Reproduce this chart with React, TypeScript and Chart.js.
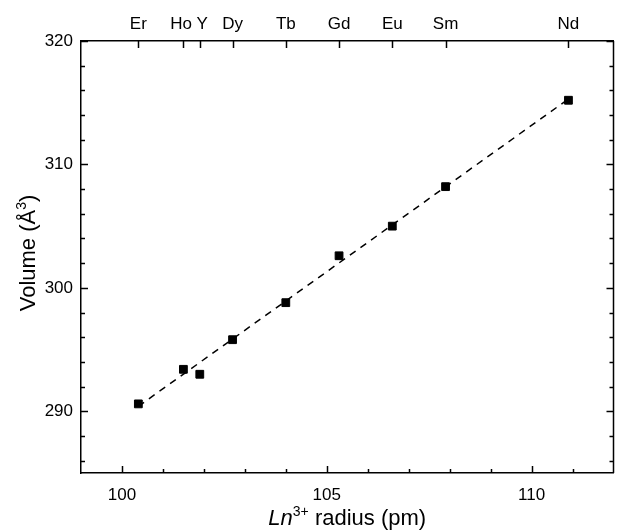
import React, { useEffect, useRef } from 'react';
import { Chart, registerables } from 'chart.js';

Chart.register(...registerables);

// ---- data ----
const elements = ['Er', 'Ho ', ' Y', 'Dy', 'Tb', 'Gd', 'Eu', 'Sm', 'Nd'];
const radii = [100.4, 101.5, 101.9, 102.7, 104.0, 105.3, 106.6, 107.9, 110.9];
const volumes = [290.6, 293.4, 293.0, 295.8, 298.8, 302.6, 305.0, 308.2, 315.2];
const fitX = [100.4, 110.9];
const fitY = [290.4, 315.3];
const xTicks = [100, 105, 110];
const yTicks = [290, 300, 310, 320];

const FONT = '"Liberation Sans", Arial, sans-serif';

const decorPlugin = {
  id: 'decor',
  afterDraw(chart: any) {
    const { ctx, chartArea: a, scales } = chart;
    const x = scales.x;
    const y = scales.y;
    ctx.save();
    ctx.strokeStyle = '#000';
    ctx.lineWidth = 1.5;
    const line = (x1: number, y1: number, x2: number, y2: number) => {
      ctx.beginPath();
      ctx.moveTo(x1, y1);
      ctx.lineTo(x2, y2);
      ctx.stroke();
    };
    // right frame
    line(a.right, a.top, a.right, a.bottom);
    // y ticks (left + right, inward)
    for (let v = 286; v <= 320; v += 2) {
      const py = Math.round(y.getPixelForValue(v)) + 0.5;
      const len = v % 10 === 0 ? 7 : 4;
      line(a.left, py, a.left + len, py);
      line(a.right, py, a.right - len, py);
    }
    // x ticks bottom (inward)
    for (let v = 100; v <= 111; v += 1) {
      const px = Math.round(x.getPixelForValue(v)) + 0.5;
      const len = v % 5 === 0 ? 7 : 4;
      line(px, a.bottom, px, a.bottom - len);
    }
    // top ticks at element radii
    for (const r of radii) {
      const px = Math.round(x.getPixelForValue(r)) + 0.5;
      line(px, a.top, px, a.top + 7);
    }

    ctx.fillStyle = '#000';
    // x title: Ln^{3+} radius (pm)
    const cx = (a.left + a.right) / 2;
    const base = 525;
    const parts = [
      { t: 'Ln', f: `italic 22px ${FONT}`, dy: 0 },
      { t: '3+', f: `14px ${FONT}`, dy: -9 },
      { t: ' radius (pm)', f: `22px ${FONT}`, dy: 0 },
    ];
    let total = 0;
    for (const p of parts) {
      ctx.font = p.f;
      total += ctx.measureText(p.t).width;
    }
    let sx = cx - total / 2;
    ctx.textAlign = 'left';
    ctx.textBaseline = 'alphabetic';
    for (const p of parts) {
      ctx.font = p.f;
      ctx.fillText(p.t, sx, base + p.dy);
      sx += ctx.measureText(p.t).width;
    }

    // y title: Volume (Å^3)
    const cy = (a.top + a.bottom) / 2 - 4;
    const yparts = [
      { t: 'Volume (Å', f: `22px ${FONT}`, dy: 0 },
      { t: '3', f: `14px ${FONT}`, dy: -9 },
      { t: ')', f: `22px ${FONT}`, dy: 0 },
    ];
    let ytotal = 0;
    for (const p of yparts) {
      ctx.font = p.f;
      ytotal += ctx.measureText(p.t).width;
    }
    ctx.translate(35, cy);
    ctx.rotate(-Math.PI / 2);
    let ty = -ytotal / 2;
    for (const p of yparts) {
      ctx.font = p.f;
      ctx.fillText(p.t, ty, p.dy);
      ty += ctx.measureText(p.t).width;
    }
    ctx.restore();
  },
};

export default function App() {
  const ref = useRef<HTMLCanvasElement>(null);

  useEffect(() => {
    if (!ref.current) return;
    const border = { display: true, color: '#000', width: 1.5 };
    const noPadH = (s: any) => {
      s.paddingLeft = 0;
      s.paddingRight = 0;
    };
    const noPadV = (s: any) => {
      s.paddingTop = 0;
      s.paddingBottom = 0;
    };
    const chart = new Chart(ref.current, {
      type: 'scatter',
      data: {
        datasets: [
          {
            type: 'scatter',
            label: 'Volume',
            data: radii.map((r, i) => ({ x: r, y: volumes[i] })),
            pointStyle: 'rect',
            pointRadius: 5.5,
            pointBorderWidth: 1,
            backgroundColor: '#000',
            borderColor: '#000',
            order: 0,
          },
          {
            type: 'line',
            label: 'Fit',
            data: fitX.map((v, i) => ({ x: v, y: fitY[i] })),
            borderColor: '#000',
            borderWidth: 1.5,
            borderDash: [7, 6],
            pointRadius: 0,
            fill: false,
            order: 1,
          } as any,
        ],
      },
      options: {
        responsive: false,
        animation: false,
        layout: { padding: { left: 0, top: 0, bottom: 0, right: 3 } },
        plugins: {
          legend: { display: false },
          tooltip: { enabled: false },
        },
        scales: {
          x: {
            type: 'linear',
            position: 'bottom',
            min: 99,
            max: 112,
            afterBuildTicks: (s: any) => {
              s.ticks = xTicks.map((v) => ({ value: v }));
            },
            afterFit: (s: any) => {
              s.height = 58;
              noPadH(s);
            },
            grid: { display: false, drawTicks: false },
            border,
            ticks: {
              color: '#000',
              font: { family: FONT, size: 17 },
              padding: 12,
              autoSkip: false,
              maxRotation: 0,
              callback: (v: any) => String(v),
            },
          },
          x2: {
            type: 'linear',
            position: 'top',
            min: 99,
            max: 112,
            afterBuildTicks: (s: any) => {
              s.ticks = radii.map((v) => ({ value: v }));
            },
            afterFit: (s: any) => {
              s.height = 41;
              noPadH(s);
            },
            grid: { display: false, drawTicks: false },
            border,
            ticks: {
              color: '#000',
              font: { family: FONT, size: 17 },
              padding: 6,
              autoSkip: false,
              maxRotation: 0,
              callback: (_v: any, i: number) => elements[i],
            },
          },
          y: {
            type: 'linear',
            position: 'left',
            min: 285,
            max: 320,
            afterBuildTicks: (s: any) => {
              s.ticks = yTicks.map((v) => ({ value: v }));
            },
            afterFit: (s: any) => {
              s.width = 81;
              noPadV(s);
            },
            grid: { display: false, drawTicks: false },
            border,
            ticks: {
              color: '#000',
              font: { family: FONT, size: 17 },
              padding: 8,
              callback: (v: any) => String(v),
            },
          },
        },
      } as any,
      plugins: [decorPlugin],
    });
    return () => chart.destroy();
  }, []);

  return (
    <div style={{ position: 'fixed', left: 0, top: 0, width: 620, height: 531, background: '#fff' }}>
      <canvas ref={ref} width={620} height={531} style={{ display: 'block' }} />
    </div>
  );
}
